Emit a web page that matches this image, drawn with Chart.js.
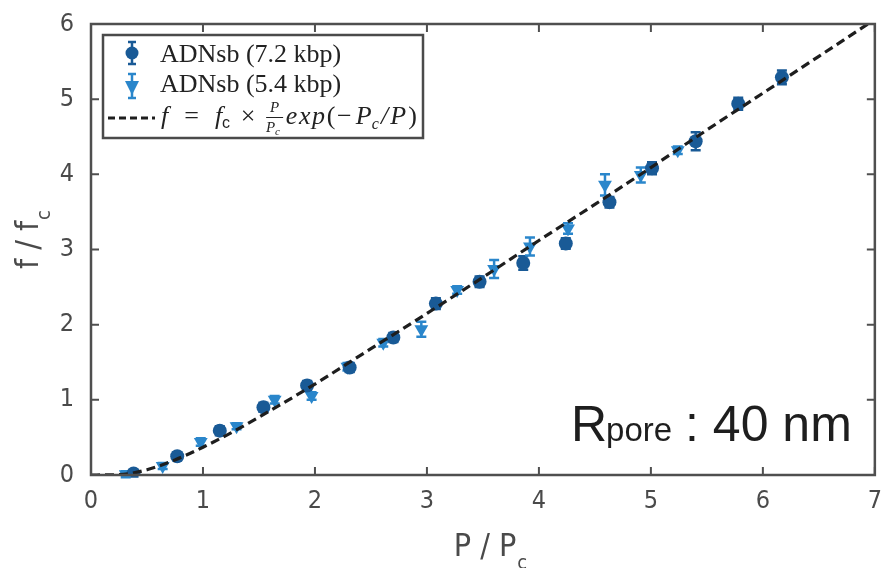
<!DOCTYPE html>
<html>
<head>
<meta charset="utf-8">
<script src="https://cdn.jsdelivr.net/npm/chart.js@4"></script>
<style>
  html, body { margin: 0; padding: 0; background: #fff; }
  #wrap { width: 885px; height: 568px; }
</style>
</head>
<body>
<div id="wrap"><canvas id="chart" width="885" height="568"></canvas></div>
<script>
// ADNsb 7.2 kbp (dark circles)
const xLong = [0.38, 0.77, 1.15, 1.54, 1.93, 2.31, 2.70, 3.08, 3.47, 3.86, 4.24, 4.63, 5.01, 5.40, 5.78, 6.17];
const yLong = [0.02, 0.25, 0.59, 0.90, 1.19, 1.43, 1.83, 2.28, 2.57, 2.82, 3.08, 3.63, 4.08, 4.44, 4.94, 5.29];
const errLong = [0.04, 0.05, 0.06, 0.06, 0.06, 0.06, 0.06, 0.07, 0.07, 0.09, 0.07, 0.07, 0.08, 0.12, 0.08, 0.09];

// ADNsb 5.4 kbp (light triangles)
const xShort = [0.31, 0.64, 0.98, 1.30, 1.64, 1.97, 2.29, 2.61, 2.95, 3.27, 3.60, 3.92, 4.26, 4.59, 4.91, 5.24];
const yShort = [0.01, 0.12, 0.44, 0.65, 1.00, 1.05, 1.44, 1.76, 1.94, 2.46, 2.74, 3.04, 3.28, 3.86, 3.99, 4.32];
const errShort = [0.04, 0.04, 0.05, 0.04, 0.05, 0.05, 0.05, 0.05, 0.10, 0.05, 0.12, 0.12, 0.07, 0.14, 0.10, 0.05];

// fitted curve
const xFit = [0, 0.25, 0.5, 0.75, 1, 1.25, 1.5, 2, 2.5, 3, 3.5, 4, 4.5, 5, 5.5, 6, 6.5, 7];
const yFit = [0, 0.005, 0.07, 0.20, 0.37, 0.56, 0.77, 1.21, 1.68, 2.15, 2.63, 3.12, 3.60, 4.09, 4.59, 5.08, 5.57, 6.06];

const xTicks = [0, 1, 2, 3, 4, 5, 6, 7];
const yTicks = [0, 1, 2, 3, 4, 5, 6];

const darkBlue = "#195a96";
const lightBlue = "#2a86cb";
const axisColor = "#4f4f4f";
const sansFam = "'Liberation Sans Narrow', 'DejaVu Sans Condensed', 'Open Sans', sans-serif";
const tickFont = { family: sansFam, size: 25 };

const toPts = (xs, ys) => xs.map((x, i) => ({ x: x, y: ys[i] }));

// error bars, drawn under the markers
const errorBars = {
  id: "errorBars",
  beforeDatasetsDraw(chart) {
    const ctx = chart.ctx;
    const yScale = chart.scales.y;
    chart.data.datasets.forEach((ds, di) => {
      if (!ds.errors) return;
      const meta = chart.getDatasetMeta(di);
      ctx.save();
      ctx.strokeStyle = ds.backgroundColor;
      ctx.lineWidth = 2.5;
      meta.data.forEach((pt, i) => {
        const v = ds.data[i].y;
        const top = yScale.getPixelForValue(v + ds.errors[i]);
        const bot = yScale.getPixelForValue(v - ds.errors[i]);
        ctx.beginPath();
        ctx.moveTo(pt.x, top); ctx.lineTo(pt.x, bot);
        ctx.moveTo(pt.x - 5, top); ctx.lineTo(pt.x + 5, top);
        ctx.moveTo(pt.x - 5, bot); ctx.lineTo(pt.x + 5, bot);
        ctx.stroke();
      });
      ctx.restore();
    });
  }
};

// box frame with inward ticks on all four sides
const frame = {
  id: "frame",
  afterDatasetsDraw(chart) {
    const ctx = chart.ctx;
    const a = chart.chartArea;
    const xs = chart.scales.x, ys = chart.scales.y;
    ctx.save();
    ctx.strokeStyle = axisColor;
    ctx.lineWidth = 2.5;
    ctx.strokeRect(a.left, a.top, a.right - a.left, a.bottom - a.top);
    ctx.lineWidth = 2;
    ctx.beginPath();
    xTicks.forEach(t => {
      const px = xs.getPixelForValue(t);
      ctx.moveTo(px, a.bottom); ctx.lineTo(px, a.bottom - 8);
      ctx.moveTo(px, a.top); ctx.lineTo(px, a.top + 8);
    });
    yTicks.forEach(t => {
      const py = ys.getPixelForValue(t);
      ctx.moveTo(a.left, py); ctx.lineTo(a.left + 8, py);
      ctx.moveTo(a.right, py); ctx.lineTo(a.right - 8, py);
    });
    ctx.stroke();
    ctx.restore();
  }
};

// writes the fit formula as a row of pieces, spread to fill [x0, x1]
function drawFormula(ctx, x0, x1, by) {
  const it = "italic 26px 'Liberation Serif', serif";
  const rm = "26px 'Liberation Serif', serif";
  const sub = "italic 16px 'Liberation Serif', serif";
  const subRm = "16px 'Liberation Sans', sans-serif";
  const fr = "italic 15px 'Liberation Serif', serif";
  // each piece: text, font, y shift, weight of the gap after it
  const parts = [
    ["f", it, 0, 3], ["=", rm, 0, 3], ["f", it, 0, 0], ["c", subRm, 4, 2],
    ["\u00d7", rm, 0, 2], ["FRAC", null, 0, 0.5],
    ["e", it, 0, 0.3], ["x", it, 0, 0.3], ["p", it, 0, 0.3], ["(", rm, 0, 0.3],
    ["\u2212", rm, 0, 0.8], ["P", it, 0, 0], ["c", sub, 5, 0.4], ["/", it, 0, 0.4],
    ["P", it, 0, 0.4], [")", rm, 0, 0]
  ];
  const fracW = 17;
  let natural = 0, weights = 0;
  parts.forEach(p => {
    if (p[0] === "FRAC") natural += fracW;
    else { ctx.font = p[1]; natural += ctx.measureText(p[0]).width; }
    weights += p[3];
  });
  const unit = Math.max(0, (x1 - x0 - natural) / weights);
  let x = x0;
  parts.forEach(p => {
    if (p[0] === "FRAC") {
      ctx.font = fr;
      ctx.fillText("P", x + 4, by - 12);
      ctx.fillText("P", x, by + 8);
      ctx.font = "italic 11px 'Liberation Serif', serif";
      ctx.fillText("c", x + 9, by + 11);
      ctx.fillRect(x, by - 7, fracW, 1);
      x += fracW;
    } else {
      ctx.font = p[1];
      ctx.fillText(p[0], x, by + p[2]);
      x += ctx.measureText(p[0]).width;
    }
    x += unit * p[3];
  });
}

// axis titles with subscripts, legend box and the Rpore label
const labels = {
  id: "labels",
  afterDraw(chart) {
    const ctx = chart.ctx;
    ctx.save();
    ctx.fillStyle = "#4a4a4a";
    ctx.textBaseline = "alphabetic";

    // x title
    ctx.font = "32px " + sansFam;
    const xt = "P / P";
    const w1 = ctx.measureText(xt).width;
    const x0 = 485 - w1 / 2;
    ctx.fillText(xt, x0, 556);
    ctx.font = "20px " + sansFam;
    ctx.fillText("c", x0 + w1 + 1, 569);

    // y title
    ctx.save();
    ctx.translate(38, 245);
    ctx.rotate(-Math.PI / 2);
    ctx.font = "32px " + sansFam;
    const yt = "f / f";
    const w2 = ctx.measureText(yt).width;
    ctx.fillText(yt, -w2 / 2, 0);
    ctx.font = "20px " + sansFam;
    ctx.fillText("c", w2 / 2 + 1, 12);
    ctx.restore();

    // legend
    const lx = 103, ly = 35, lw = 320, lh = 103;
    ctx.fillStyle = "#fff";
    ctx.fillRect(lx, ly, lw, lh);
    ctx.strokeStyle = "#4a4a4a";
    ctx.lineWidth = 2.5;
    ctx.strokeRect(lx, ly, lw, lh);

    const mx = 132;
    // circle entry
    ctx.strokeStyle = darkBlue; ctx.lineWidth = 2.5;
    ctx.beginPath();
    ctx.moveTo(mx, 42); ctx.lineTo(mx, 64);
    ctx.moveTo(mx - 4, 42); ctx.lineTo(mx + 4, 42);
    ctx.moveTo(mx - 4, 64); ctx.lineTo(mx + 4, 64);
    ctx.stroke();
    ctx.fillStyle = darkBlue;
    ctx.beginPath(); ctx.arc(mx, 53, 6.5, 0, Math.PI * 2); ctx.fill();
    // triangle entry
    ctx.strokeStyle = lightBlue;
    ctx.beginPath();
    ctx.moveTo(mx, 74); ctx.lineTo(mx, 98);
    ctx.moveTo(mx - 4, 74); ctx.lineTo(mx + 4, 74);
    ctx.moveTo(mx - 4, 98); ctx.lineTo(mx + 4, 98);
    ctx.stroke();
    ctx.fillStyle = lightBlue;
    ctx.beginPath();
    ctx.moveTo(mx - 7, 81); ctx.lineTo(mx + 7, 81); ctx.lineTo(mx, 95); ctx.closePath();
    ctx.fill();
    // dashed line entry
    ctx.strokeStyle = "#1e1e1e"; ctx.lineWidth = 3;
    ctx.setLineDash([7, 4]);
    ctx.beginPath(); ctx.moveTo(108, 118); ctx.lineTo(155, 118); ctx.stroke();
    ctx.setLineDash([]);

    ctx.fillStyle = "#222";
    ctx.font = "26px 'Liberation Serif', serif";
    ctx.fillText("ADNsb (7.2 kbp)", 160, 62);
    ctx.fillText("ADNsb (5.4 kbp)", 160, 92);
    drawFormula(ctx, 161, 417, 124);

    // Rpore : 40 nm
    ctx.fillStyle = "#1e1e1e";
    let rx = 571;
    ctx.font = "50px 'Liberation Sans', Arial, sans-serif";
    ctx.fillText("R", rx, 441);
    rx += ctx.measureText("R").width;
    ctx.font = "33px 'Liberation Sans', Arial, sans-serif";
    ctx.fillText("pore", rx - 1, 441);
    rx += ctx.measureText("pore").width;
    ctx.font = "50px 'Liberation Sans', Arial, sans-serif";
    ctx.fillText(" : 40 nm", rx - 2, 441);
    ctx.restore();
  }
};

new Chart(document.getElementById("chart"), {
  type: "scatter",
  data: {
    datasets: [
      {
        label: "f = fc × P/Pc exp(-Pc/P)",
        data: toPts(xFit, yFit),
        showLine: true,
        borderColor: "#1e1e1e",
        borderWidth: 3.2,
        borderDash: [9, 5],
        pointRadius: 0,
        cubicInterpolationMode: "monotone",
        order: 0
      },
      {
        label: "ADNsb (7.2 kbp)",
        data: toPts(xLong, yLong),
        errors: errLong,
        backgroundColor: darkBlue,
        borderColor: darkBlue,
        pointStyle: "circle",
        pointRadius: 7,
        pointBorderWidth: 0,
        order: 1
      },
      {
        label: "ADNsb (5.4 kbp)",
        data: toPts(xShort, yShort),
        errors: errShort,
        backgroundColor: lightBlue,
        borderColor: lightBlue,
        pointStyle: "triangle",
        rotation: 180,
        pointRadius: 8,
        pointBorderWidth: 0,
        order: 2
      }
    ]
  },
  options: {
    responsive: false,
    animation: false,
    layout: { padding: { top: 22, right: 5, left: 0, bottom: 0 } },
    plugins: {
      legend: { display: false },
      tooltip: { enabled: false }
    },
    scales: {
      x: {
        type: "linear",
        min: 0, max: 7,
        afterBuildTicks: s => { s.ticks = xTicks.map(v => ({ value: v })); },
        afterFit: s => { s.height = 93; },
        ticks: { color: "#4a4a4a", font: tickFont, padding: 3 },
        grid: { display: false },
        border: { display: false }
      },
      y: {
        min: 0, max: 6,
        afterBuildTicks: s => { s.ticks = yTicks.map(v => ({ value: v })); },
        afterFit: s => { s.width = 91; },
        ticks: { color: "#4a4a4a", font: tickFont, padding: 9 },
        grid: { display: false },
        border: { display: false }
      }
    }
  },
  plugins: [errorBars, frame, labels]
});
</script>
</body>
</html>
